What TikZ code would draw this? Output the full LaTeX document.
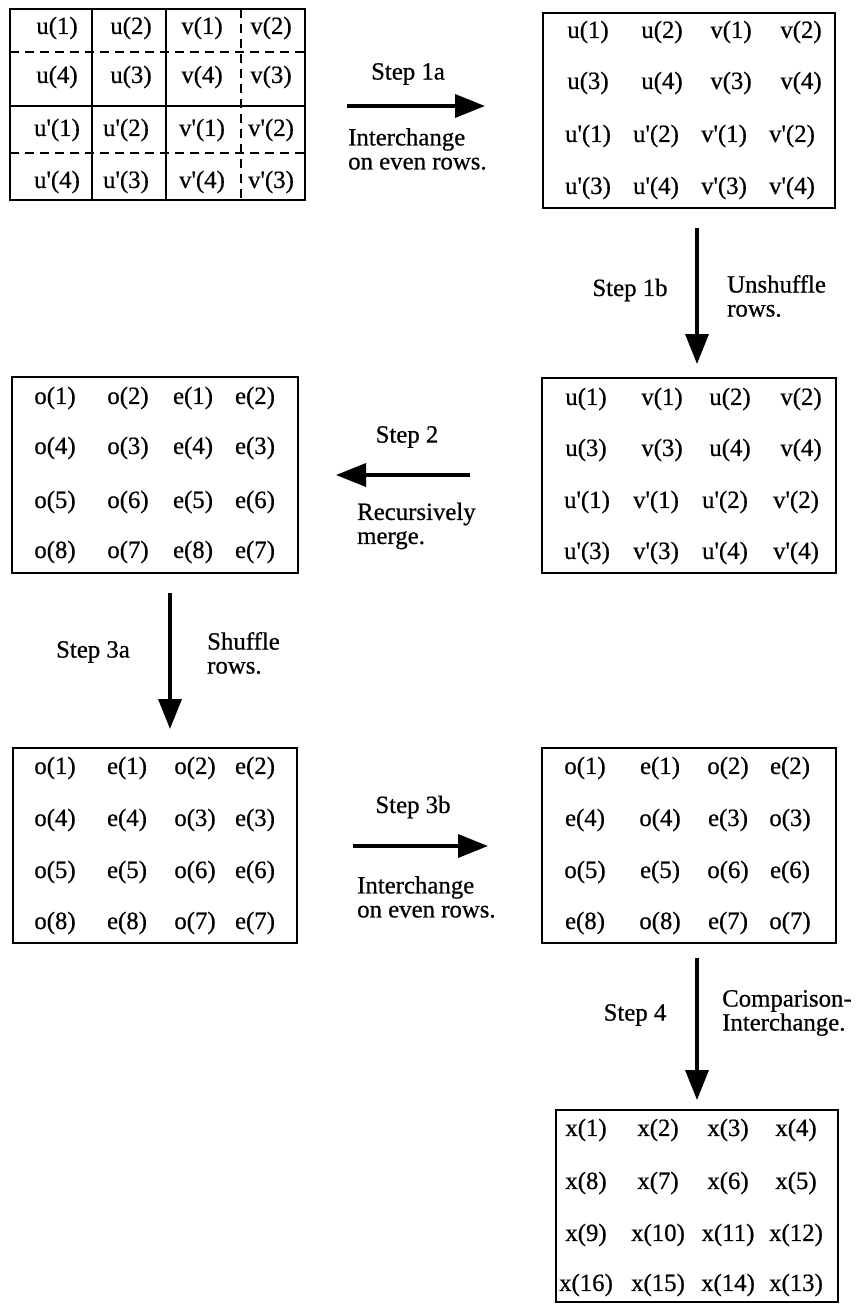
\documentclass[tikz,border=0pt]{standalone}
\usepackage{fontspec}
\setmainfont{Liberation Serif}[FakeBold=0.6]
\usetikzlibrary{arrows.meta}
\newcommand\gridrow[5]{%
  \foreach \t [count=\i] in {#5} {%
    \pgfmathsetmacro\xx{{#4}[\i-1]}%
    \node[cell] (#1r#2c\i) at (\xx,#3) {\t};}}
\newcommand\pr{\textquotesingle}
\begin{document}
\begin{tikzpicture}[x=1pt,y=-1pt,
  box/.style={draw, line width=2.4pt, inner sep=0pt},
  cell/.style={inner sep=0pt, font=\fontsize{24.8}{24}\selectfont},
  lbl/.style={inner sep=0pt, font=\fontsize{24.8}{24}\selectfont},
  desc/.style={inner sep=0pt, align=left, anchor=west, font=\fontsize{24.8}{24}\selectfont},
  arr/.style={line width=3.6pt, -{Triangle[length=30pt,width=23pt]}},
  solidthick/.style={line width=2.4pt},
  solidthin/.style={line width=1.3pt},
  dashline/.style={line width=1.8pt, dash pattern=on 9pt off 6pt}
]
\useasboundingbox (0,0) rectangle (858,1304);

% boxes
\node[box, minimum width=295pt, minimum height=191pt] (b1) at (157.5,104.5) {};
\node[box, minimum width=292pt, minimum height=195pt] (b2) at (689,110.5) {};
\node[box, minimum width=294pt, minimum height=195pt] (b3) at (689,475.5) {};
\node[box, minimum width=286pt, minimum height=196pt] (b4) at (155,475) {};
\node[box, minimum width=284pt, minimum height=195pt] (b5) at (155,845.5) {};
\node[box, minimum width=294pt, minimum height=195pt] (b6) at (689,845.5) {};
\node[box, minimum width=282pt, minimum height=192pt] (b7) at (697,1206) {};

% inner lines of the first box
\draw[solidthin] (92,9) -- (92,200);
\draw[solidthick] (166,9) -- (166,200);
\draw[dashline] (241,9) -- (241,200);
\draw[solidthick] (10,106) -- (305,106);
\draw[dashline] (10,52) -- (305,52);
\draw[dashline, line width=1.3pt] (10,153) -- (305,153);

% box 1
\gridrow{b1}{1}{28}{57,131,202,271}{u(1),u(2),v(1),v(2)}
\gridrow{b1}{2}{77}{57,131,202,271}{u(4),u(3),v(4),v(3)}
\gridrow{b1}{3}{130}{57,126,202,271}{u\pr(1),u\pr(2),v\pr(1),v\pr(2)}
\gridrow{b1}{4}{182}{57,126,202,271}{u\pr(4),u\pr(3),v\pr(4),v\pr(3)}
% box 2
\gridrow{b2}{1}{32}{588,662,731,801}{u(1),u(2),v(1),v(2)}
\gridrow{b2}{2}{83}{588,662,731,801}{u(3),u(4),v(3),v(4)}
\gridrow{b2}{3}{136}{588,656,724,792}{u\pr(1),u\pr(2),v\pr(1),v\pr(2)}
\gridrow{b2}{4}{188}{588,656,724,792}{u\pr(3),u\pr(4),v\pr(3),v\pr(4)}
% box 3
\gridrow{b3}{1}{399}{586,662,730,801}{u(1),v(1),u(2),v(2)}
\gridrow{b3}{2}{450}{586,662,730,801}{u(3),v(3),u(4),v(4)}
\gridrow{b3}{3}{502}{587,656,725,796}{u\pr(1),v\pr(1),u\pr(2),v\pr(2)}
\gridrow{b3}{4}{553}{587,656,725,796}{u\pr(3),v\pr(3),u\pr(4),v\pr(4)}
% box 4
\gridrow{b4}{1}{398}{55,128,193,255}{o(1),o(2),e(1),e(2)}
\gridrow{b4}{2}{448}{55,128,193,255}{o(4),o(3),e(4),e(3)}
\gridrow{b4}{3}{502}{55,128,193,255}{o(5),o(6),e(5),e(6)}
\gridrow{b4}{4}{552}{55,128,193,255}{o(8),o(7),e(8),e(7)}
% box 5
\gridrow{b5}{1}{768}{55,127,195,255}{o(1),e(1),o(2),e(2)}
\gridrow{b5}{2}{820}{55,127,195,255}{o(4),e(4),o(3),e(3)}
\gridrow{b5}{3}{872}{55,127,195,255}{o(5),e(5),o(6),e(6)}
\gridrow{b5}{4}{923}{55,127,195,255}{o(8),e(8),o(7),e(7)}
% box 6
\gridrow{b6}{1}{768}{585,660,728,790}{o(1),e(1),o(2),e(2)}
\gridrow{b6}{2}{820}{585,660,728,790}{e(4),o(4),e(3),o(3)}
\gridrow{b6}{3}{872}{585,660,728,790}{o(5),e(5),o(6),e(6)}
\gridrow{b6}{4}{923}{585,660,728,790}{e(8),o(8),e(7),o(7)}
% box 7
\gridrow{b7}{1}{1130}{586,658,728,796}{x(1),x(2),x(3),x(4)}
\gridrow{b7}{2}{1183}{586,658,728,796}{x(8),x(7),x(6),x(5)}
\gridrow{b7}{3}{1235}{586,658,728,796}{x(9),x(10),x(11),x(12)}
\gridrow{b7}{4}{1285}{586,658,728,796}{x(16),x(15),x(14),x(13)}

% arrow end points
\coordinate (a1s) at (347,106);  \coordinate (a1e) at (485,106);
\coordinate (a2s) at (697,228);  \coordinate (a2e) at (697,364);
\coordinate (a3s) at (470,475);  \coordinate (a3e) at (336,475);
\coordinate (a4s) at (170,593);  \coordinate (a4e) at (170,729);
\coordinate (a5s) at (353,846);  \coordinate (a5e) at (488,846);
\coordinate (a6s) at (697,958);  \coordinate (a6e) at (697,1100);
\draw[arr] (a1s) -- (a1e);
\draw[arr] (a2s) -- (a2e);
\draw[arr] (a3s) -- (a3e);
\draw[arr] (a4s) -- (a4e);
\draw[arr] (a5s) -- (a5e);
\draw[arr] (a6s) -- (a6e);

% labels
\node[lbl] (s1a) at (408,74) {Step 1a};
\node[desc] (d1a) at (348,149) {Interchange\\on even rows.};
\node[lbl] (s1b) at (630,290) {Step 1b};
\node[desc] (d1b) at (727,296) {Unshuffle\\rows.};
\node[lbl] (s2) at (407,437) {Step 2};
\node[desc] (d2) at (357,526) {Recursively\\merge.};
\node[lbl] (s3a) at (93,652) {Step 3a};
\node[desc] (d3a) at (207,653) {Shuffle\\rows.};
\node[lbl] (s3b) at (413,807) {Step 3b};
\node[desc] (d3b) at (357,897) {Interchange\\on even rows.};
\node[lbl] (s4) at (635,1015) {Step 4};
\node[desc] (d4) at (722,1013) {Comparison-\\Interchange.};
\end{tikzpicture}
\end{document}
